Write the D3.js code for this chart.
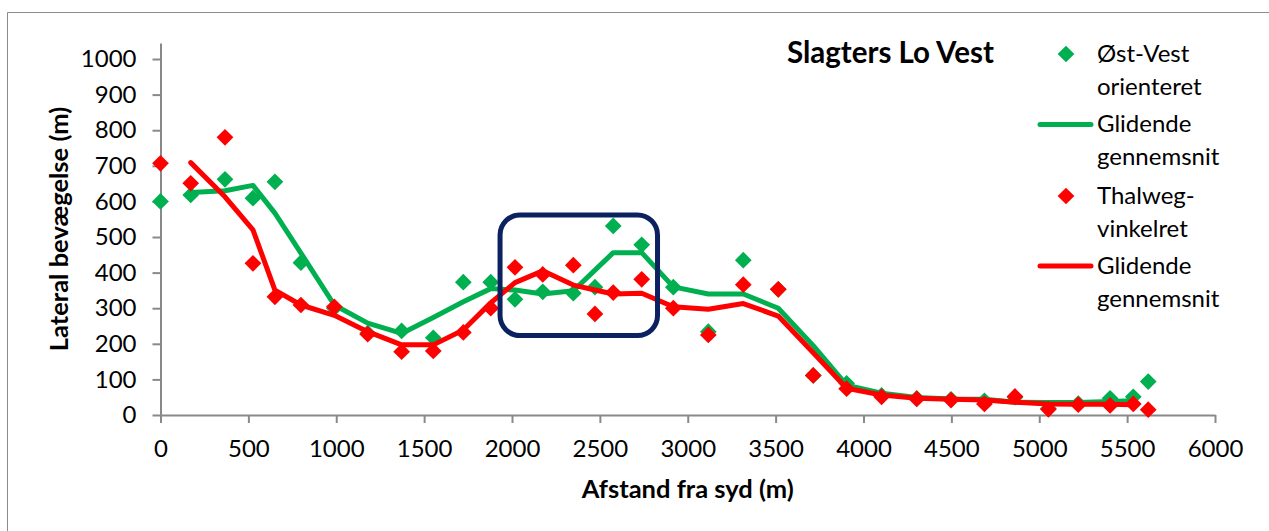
<!DOCTYPE html>
<html>
<head>
<meta charset="utf-8">
<script src="https://cdn.jsdelivr.net/npm/d3@7"></script>
<style>
  body { margin: 0; background: #fff; }
  text { font-family: Lato, "Open Sans", sans-serif; fill: #000; }
</style>
</head>
<body>
<svg id="chart" width="1269" height="531"></svg>
<script>
// distance from south (m)
const distances = [0, 172, 367, 526, 651, 799, 989, 1179, 1372, 1552, 1723, 1879, 2017, 2175, 2349, 2472, 2576,
  2738, 2918, 3117, 3316, 3515, 3714, 3904, 4103, 4303, 4498, 4688, 4862, 5052, 5222, 5403, 5535, 5620];

// Øst-Vest orienteret
const eastWest = [600, 618, 662, 609, 655, 428, 300, 230, 236, 217, 373, 373, 325, 346, 342, 359, 531,
  478, 359, 234, 435, 353, 111, 89, 55, 47, 44, 40, 50, 18, 32, 47, 51, 94];
const eastWestAvg = [null, 625, 630, 645, 567, 455, 309, 258, 229, 274, 318, 355, 351, 340, 349, 407, 456,
  456, 360, 340, 340, 300, 195, 84, 61, 49, 45, 44, 36, 35, 35, 38, 40, null];

// Thalweg-vinkelret
const thalweg = [707, 651, 780, 426, 332, 309, 304, 227, 178, 180, 232, 300, 415, 395, 421, 284, 344,
  381, 300, 225, 366, 353, 111, 74, 51, 45, 42, 31, 52, 16, 29, 27, 31, 15];
const thalwegAvg = [null, 709, 613, 520, 351, 309, 280, 234, 197, 197, 239, 315, 372, 405, 365, 351, 340,
  342, 304, 297, 313, 278, 175, 75, 56, 47, 44, 42, 36, 31, 30, 30, 29, null];

const xTicks = d3.range(0, 6001, 500);
const yTicks = d3.range(0, 1001, 100);
const legendLabels = [["Øst-Vest", "orienteret"], ["Glidende", "gennemsnit"], ["Thalweg-", "vinkelret"], ["Glidende", "gennemsnit"]];
// highlighted section, in data units
const boxX = [1932, 2828];
const boxY = [223, 562];

const green = "#00B050", red = "#FF0000", axisGrey = "#898989";

const svg = d3.select("#chart");

// outer chart border (only left/top fall inside the picture)
svg.append("path")
  .attr("d", "M7.5,531V12.5H1269")
  .attr("fill", "none")
  .attr("stroke", "#8c8c8c")
  .attr("stroke-width", 1);

const x = d3.scaleLinear().domain([0, 6000]).range([160.5, 1215]);
const y = d3.scaleLinear().domain([0, 1045]).range([415, 43]);

const xAxis = svg.append("g")
  .attr("transform", `translate(0,${y(0)})`)
  .call(d3.axisBottom(x).tickValues(xTicks).tickFormat(d3.format("d"))
    .tickSize(8).tickSizeOuter(0).tickPadding(11));

const yAxis = svg.append("g")
  .attr("transform", `translate(${x(0)},0)`)
  .call(d3.axisLeft(y).tickValues(yTicks).tickFormat(d3.format("d"))
    .tickSize(8).tickSizeOuter(0).tickPadding(16));

[xAxis, yAxis].forEach(a => {
  a.selectAll("path, line").attr("stroke", axisGrey).attr("stroke-width", 2);
  a.selectAll("text").style("font-size", "24px").style("font-family", "Lato, sans-serif");
});
xAxis.selectAll("text").attr("dy", "0.95em");

// axis titles
svg.append("text")
  .attr("x", (x(0) + x(6000)) / 2)
  .attr("y", 498)
  .attr("text-anchor", "middle")
  .style("font-size", "25.5px").style("font-weight", "bold")
  .text("Afstand fra syd (m)");

svg.append("text")
  .attr("transform", `translate(68,${y(0) - (y(0) - 43) / 2}) rotate(-90)`)
  .attr("text-anchor", "middle")
  .style("font-size", "25.5px").style("font-weight", "bold")
  .text("Lateral bevægelse (m)");

const diamond = d3.symbol(d3.symbolSquare).size(140)();

function drawPoints(values, color) {
  svg.append("g").selectAll("path")
    .data(distances.map((d, i) => [d, values[i]]).filter(d => d[1] != null))
    .join("path")
    .attr("d", diamond)
    .attr("transform", d => `translate(${x(d[0])},${y(d[1])}) rotate(45)`)
    .attr("fill", color);
}

function drawLine(values, color) {
  const line = d3.line()
    .defined(d => d[1] != null)
    .x(d => x(d[0]))
    .y(d => y(d[1]));
  svg.append("path")
    .datum(distances.map((d, i) => [d, values[i]]))
    .attr("d", line)
    .attr("fill", "none")
    .attr("stroke", color)
    .attr("stroke-width", 5)
    .attr("stroke-linejoin", "round")
    .attr("stroke-linecap", "round");
}

drawPoints(eastWest, green);
drawLine(eastWestAvg, green);
drawPoints(thalweg, red);
drawLine(thalwegAvg, red);

// rounded highlight box
svg.append("rect")
  .attr("x", x(boxX[0]))
  .attr("y", y(boxY[1]))
  .attr("width", x(boxX[1]) - x(boxX[0]))
  .attr("height", y(boxY[0]) - y(boxY[1]))
  .attr("rx", 20)
  .attr("fill", "none")
  .attr("stroke", "#0C2260")
  .attr("stroke-width", 5);

// title
svg.append("text")
  .attr("x", 787)
  .attr("y", 63)
  .style("font-size", "29.5px").style("font-weight", "bold")
  .text("Slagters Lo Vest");

// legend
const legendColors = [green, green, red, red];
const legendKinds = ["point", "line", "point", "line"];
const legendTop = [54, 124.5, 196, 266];
const legend = svg.append("g");
legendLabels.forEach((lines, i) => {
  const g = legend.append("g").attr("transform", `translate(0,${legendTop[i]})`);
  if (legendKinds[i] === "point") {
    g.append("path").attr("d", diamond)
      .attr("transform", "translate(1066,0) rotate(45)")
      .attr("fill", legendColors[i]);
  } else {
    g.append("line")
      .attr("x1", 1040).attr("x2", 1091)
      .attr("stroke", legendColors[i]).attr("stroke-width", 5)
      .attr("stroke-linecap", "round");
  }
  g.selectAll("text")
    .data(lines)
    .join("text")
    .attr("x", 1097)
    .attr("y", (d, j) => 7.5 + j * 33)
    .style("font-size", "24px")
    .text(d => d);
});
</script>
</body>
</html>
